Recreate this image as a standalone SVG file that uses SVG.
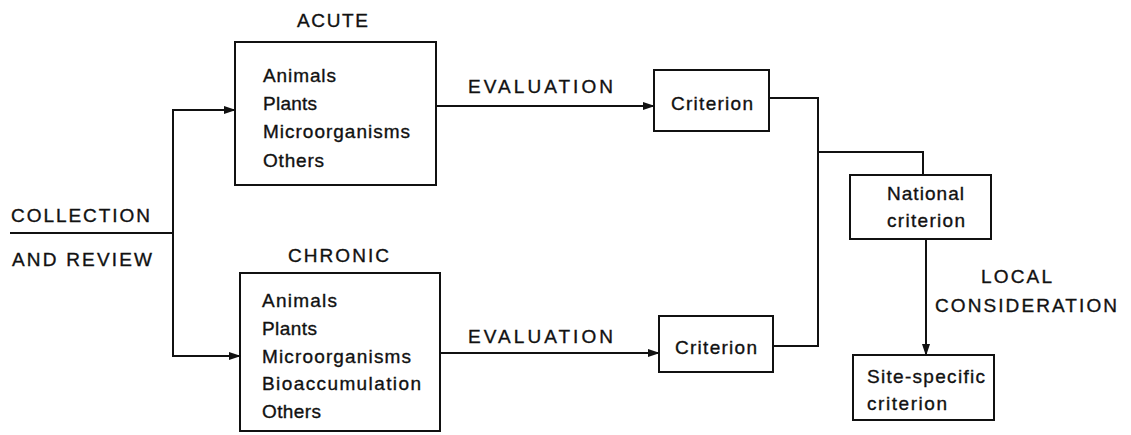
<svg xmlns="http://www.w3.org/2000/svg" width="1131" height="435" viewBox="0 0 1131 435">
<style>
  text { font-family: "Liberation Sans", Arial, sans-serif; font-size: 19px; fill: #111; stroke: #111; stroke-width: 0.35; }
  .box { fill: none; stroke: #111; stroke-width: 2; }
  .ln { fill: none; stroke: #111; stroke-width: 2; }
  .arr { marker-end: url(#ah); }
</style>
<defs>
  <marker id="ah" markerUnits="userSpaceOnUse" markerWidth="12" markerHeight="8" refX="11" refY="4" orient="auto">
    <path d="M0,0 L12,4 L0,8 z" fill="#111"/>
  </marker>
</defs>
<rect width="1131" height="435" fill="#fff"/>

<g id="collection">
  <text x="11" y="222" textLength="139" lengthAdjust="spacing">COLLECTION</text>
  <text x="12" y="266" textLength="140" lengthAdjust="spacing">AND REVIEW</text>
</g>

<g id="acute">
  <text x="297" y="27" textLength="71" lengthAdjust="spacing">ACUTE</text>
  <rect class="box" x="235" y="42" width="201" height="143"/>
  <text x="263" y="82" textLength="73" lengthAdjust="spacing">Animals</text>
  <text x="263" y="110" textLength="54" lengthAdjust="spacing">Plants</text>
  <text x="263" y="138" textLength="147" lengthAdjust="spacing">Microorganisms</text>
  <text x="263" y="167" textLength="61" lengthAdjust="spacing">Others</text>
</g>

<g id="chronic">
  <text x="288" y="262" textLength="101" lengthAdjust="spacing">CHRONIC</text>
  <rect class="box" x="240" y="273" width="200" height="158"/>
  <text x="262" y="307" textLength="75" lengthAdjust="spacing">Animals</text>
  <text x="262" y="335" textLength="55" lengthAdjust="spacing">Plants</text>
  <text x="262" y="363" textLength="149" lengthAdjust="spacing">Microorganisms</text>
  <text x="262" y="390" textLength="159" lengthAdjust="spacing">Bioaccumulation</text>
  <text x="262" y="418" textLength="59" lengthAdjust="spacing">Others</text>
</g>

<g id="criterion-acute">
  <rect class="box" x="654" y="70" width="115" height="61"/>
  <text x="671" y="110" textLength="82" lengthAdjust="spacing">Criterion</text>
</g>

<g id="criterion-chronic">
  <rect class="box" x="659" y="316" width="114" height="56"/>
  <text x="675" y="354" textLength="82" lengthAdjust="spacing">Criterion</text>
</g>

<g id="national">
  <rect class="box" x="850" y="175" width="141" height="64"/>
  <text x="887" y="200" textLength="77" lengthAdjust="spacing">National</text>
  <text x="887" y="227" textLength="78" lengthAdjust="spacing">criterion</text>
</g>

<g id="site-specific">
  <rect class="box" x="853" y="355" width="141" height="65"/>
  <text x="867" y="383" textLength="118" lengthAdjust="spacing">Site-specific</text>
  <text x="867" y="410" textLength="80" lengthAdjust="spacing">criterion</text>
</g>

<g id="labels">
  <text x="468" y="93" textLength="145" lengthAdjust="spacing">EVALUATION</text>
  <text x="468" y="343" textLength="145" lengthAdjust="spacing">EVALUATION</text>
  <text x="981" y="283" textLength="71" lengthAdjust="spacing">LOCAL</text>
  <text x="935" y="312" textLength="182" lengthAdjust="spacing">CONSIDERATION</text>
</g>

<g id="connectors">
  <path class="ln" d="M10,233 H173"/>
  <path class="ln arr" d="M173,233 V110 H235"/>
  <path class="ln arr" d="M173,233 V356 H240"/>
  <path class="ln arr" d="M436,106 H654"/>
  <path class="ln arr" d="M440,353 H659"/>
  <path class="ln" d="M769,98 H818 V346 H773"/>
  <path class="ln" d="M818,152 H923 V175"/>
  <path class="ln arr" d="M926,239 V355"/>
</g>
</svg>
